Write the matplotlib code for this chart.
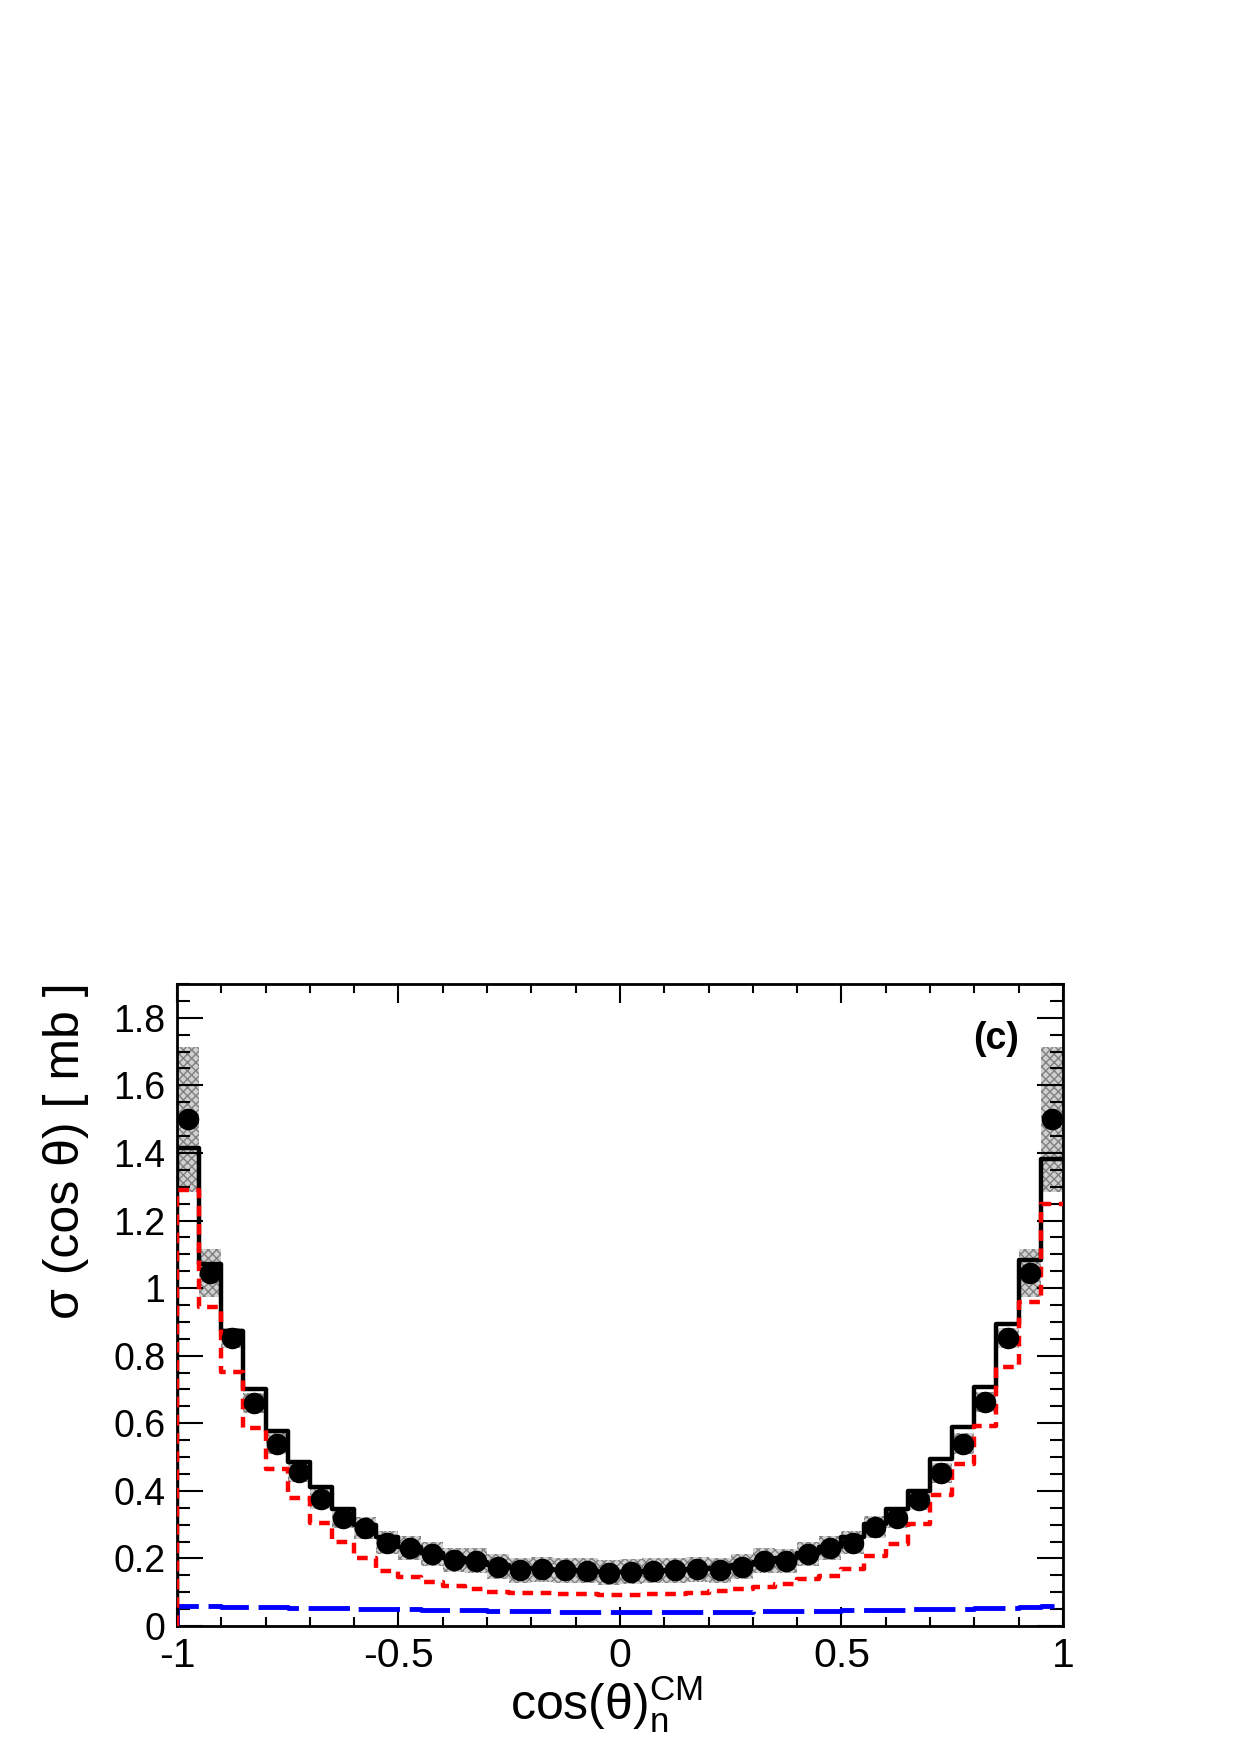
import numpy as np
import matplotlib
matplotlib.use("Agg")
import matplotlib.pyplot as plt
from matplotlib.ticker import MultipleLocator, FormatStrFormatter

plt.rcParams['font.family'] = ['Liberation Sans', 'DejaVu Sans']
plt.rcParams['mathtext.fontset'] = 'custom'
plt.rcParams['mathtext.rm'] = 'Liberation Sans'
plt.rcParams['mathtext.it'] = 'Liberation Sans'
plt.rcParams['hatch.linewidth'] = 1.0

# bin edges of cos(theta)_n^CM, 40 bins
edges = np.linspace(-1, 1, 41)
centers = 0.5*(edges[1:] + edges[:-1])

# measured cross section (points)
data = [1.50, 1.045, 0.853, 0.661, 0.540, 0.455, 0.377, 0.319, 0.291, 0.247,
        0.230, 0.214, 0.195, 0.193, 0.175, 0.165, 0.168, 0.165, 0.163, 0.158,
        0.160, 0.163, 0.165, 0.168, 0.165, 0.175, 0.193, 0.193, 0.214, 0.230,
        0.247, 0.293, 0.321, 0.372, 0.452, 0.540, 0.662, 0.853, 1.045, 1.50]
# systematic error band (half width)
syst = [0.215, 0.072, 0.03, 0.03, 0.03, 0.03, 0.03, 0.03, 0.033, 0.035,
        0.035, 0.035, 0.035, 0.037, 0.037, 0.037, 0.037, 0.037, 0.037, 0.037,
        0.037, 0.037, 0.037, 0.037, 0.037, 0.037, 0.037, 0.035, 0.035, 0.035,
        0.035, 0.033, 0.03, 0.03, 0.03, 0.03, 0.03, 0.03, 0.072, 0.215]
# total simulation (black solid)
total = [1.415, 1.072, 0.874, 0.701, 0.578, 0.486, 0.410, 0.345, 0.300, 0.262,
         0.235, 0.215, 0.200, 0.190, 0.180, 0.172, 0.168, 0.165, 0.162, 0.160,
         0.160, 0.162, 0.165, 0.168, 0.172, 0.180, 0.190, 0.200, 0.215, 0.235,
         0.262, 0.301, 0.345, 0.400, 0.494, 0.588, 0.708, 0.894, 1.084, 1.383]
# component 1 (red dashed)
comp1 = [1.289, 0.943, 0.751, 0.586, 0.464, 0.378, 0.306, 0.250, 0.200, 0.163,
         0.146, 0.131, 0.118, 0.109, 0.102, 0.099, 0.097, 0.094, 0.094, 0.093,
         0.093, 0.095, 0.096, 0.099, 0.104, 0.109, 0.116, 0.123, 0.138, 0.148,
         0.170, 0.207, 0.242, 0.303, 0.387, 0.479, 0.593, 0.767, 0.960, 1.249]
# component 2 (blue long dashed)
comp2 = [0.059, 0.058, 0.057, 0.056, 0.055, 0.054, 0.053, 0.052, 0.051, 0.050,
         0.049, 0.048, 0.047, 0.046, 0.045, 0.044, 0.043, 0.042, 0.041, 0.040,
         0.040, 0.040, 0.041, 0.041, 0.042, 0.042, 0.043, 0.044, 0.044, 0.045,
         0.046, 0.047, 0.048, 0.049, 0.050, 0.051, 0.053, 0.054, 0.056, 0.058]


def step_xy(vals):
    # histogram outline starting from zero at the first edge
    xs = np.r_[edges[0], edges]
    ys = np.r_[0, vals, vals[-1]]
    return xs, ys


fig = plt.figure(figsize=(12.4, 17.55), dpi=100)
ax = fig.add_axes([0.1427, 0.0735, 0.7145, 0.3658])

lo = np.array(data) - np.array(syst)
ax.bar(centers, 2*np.array(syst), bottom=lo, width=0.05, color='#d0d0d0',
       edgecolor='#808080', hatch='xxxx', linewidth=0, zorder=1)

xs, ys = step_xy(comp2)
ax.step(xs, ys, where='post', color='#0000ff', lw=3.5, dashes=(8.5, 2.0), zorder=2)
xs, ys = step_xy(total)
ax.step(xs, ys, where='post', color='black', lw=3.2, zorder=3)
xs, ys = step_xy(comp1)
ax.step(xs, ys, where='post', color='#ff0000', lw=3.2, dashes=(2.4, 1.7), zorder=4)

ax.plot(centers, data, 'o', color='black', ms=14.5, zorder=5)

ax.set_xlim(-1, 1)
ax.set_ylim(0, 1.9)
ax.xaxis.set_major_locator(MultipleLocator(0.5))
ax.xaxis.set_minor_locator(MultipleLocator(0.1))
ax.yaxis.set_major_locator(MultipleLocator(0.2))
ax.yaxis.set_minor_locator(MultipleLocator(0.05))
ax.xaxis.set_major_formatter(FormatStrFormatter('%g'))
ax.yaxis.set_major_formatter(FormatStrFormatter('%g'))
ax.tick_params(which='both', direction='in', top=True, right=True, width=1.5)
ax.tick_params(axis='x', which='major', length=13.5, pad=8, labelsize=29.5)
ax.tick_params(axis='x', which='minor', length=6.5)
ax.tick_params(axis='y', which='major', length=19, pad=8.5, labelsize=27)
ax.tick_params(axis='y', which='minor', length=9.5)
for s in ax.spines.values():
    s.set_linewidth(2)

ax.text(0.925, 0.914, '(c)', transform=ax.transAxes, ha='center', va='center',
        fontsize=27, fontweight='bold')

fig.text(0.489, 0.02, r'$\mathrm{cos(θ)}_{\mathrm{n}}^{\mathrm{CM}}$', ha='center',
         va='baseline', fontsize=36)
fig.text(0.053, 0.4405, 'σ (cos θ) [ mb ]', rotation=90, ha='center', va='top',
         fontsize=36)

fig.savefig('out.png', dpi=100)
